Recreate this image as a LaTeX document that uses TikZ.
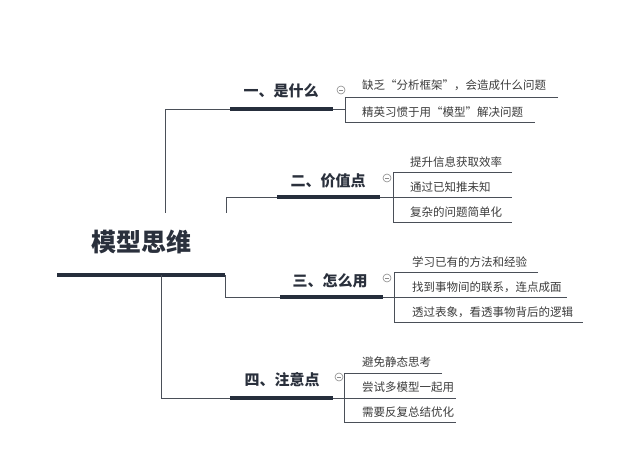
\documentclass[tikz,border=0pt]{standalone}
\usepackage{fontspec}
\newfontfamily\cjk{Noto Sans CJK SC}
\definecolor{navy}{HTML}{262E3C}
\definecolor{navytext}{HTML}{2A303C}
\definecolor{linegray}{HTML}{4A4F58}
\definecolor{leafgray}{HTML}{3C3C3C}
\definecolor{markgray}{HTML}{8A8A8A}
\tikzset{
 thinline/.style={draw=linegray, line width=0.9pt},
 thickline/.style={draw=navy, line width=3.6pt},
 rootlabel/.style={font=\cjk\bfseries\fontsize{25}{25}\selectfont, text=navytext, minimum height=58pt, inner sep=0pt},
 branchlabel/.style={font=\cjk\bfseries\fontsize{15}{15}\selectfont, text=navytext, inner sep=1pt},
 leaf/.style={font=\cjk\fontsize{11.5}{12}\selectfont, text=leafgray, anchor=west, inner sep=0pt},
 foldmark/.style={circle, draw=markgray, minimum size=8pt, inner sep=0pt, line width=0.6pt,
   path picture={\draw[markgray, line width=0.6pt] ([xshift=-2pt]path picture bounding box.center) -- ([xshift=2pt]path picture bounding box.center);}}
}
\begin{document}
\begin{tikzpicture}[x=1pt,y=-1pt]
\useasboundingbox[fill=white] (0,0) rectangle (640,476);

% root
\node[rootlabel] (root) at (141,242) {模型思维};
\coordinate (rootL) at (57,275);
\coordinate (rootR) at (225,275);
\coordinate (rootM) at (161,275);
\draw[thickline] (rootL) -- (rootR);

% ---------- branch 1
\node[branchlabel] (b1) at (281,91) {一、是什么};
\coordinate (b1L) at (230,109);
\coordinate (b1R) at (333,109);
\coordinate (j1) at (165,109);
\coordinate (k1) at (345,109);
\node[foldmark] (f1) at (341,90) {};
\draw[thinline] (j1 |- root.north) -- (j1) -- (b1L);
\draw[thickline] (b1L) -- (b1R);
\draw[thinline] (b1R) -- (k1);
\coordinate (u11) at (345,97);  \coordinate (e11) at (558,97);
\coordinate (u12) at (345,122); \coordinate (e12) at (535,122);
\node[leaf] (l11) at (362,85) {缺乏“分析框架”，会造成什么问题};
\node[leaf] (l12) at (362,112) {精英习惯于用“模型”解决问题};
\draw[thinline] (e11) -- (u11) -- (u12) -- (e12);

% ---------- branch 2
\node[branchlabel] (b2) at (328,181) {二、价值点};
\coordinate (b2L) at (277,197);
\coordinate (b2R) at (380,197);
\coordinate (j2) at (226,197);
\coordinate (k2) at (393,197);
\node[foldmark] (f2) at (387,178) {};
\draw[thinline] (j2 |- root.north) -- (j2) -- (b2L);
\draw[thickline] (b2L) -- (b2R);
\draw[thinline] (b2R) -- (k2);
\coordinate (u21) at (393,172); \coordinate (e21) at (512,172);
\coordinate (u22) at (393,197); \coordinate (e22) at (512,197);
\coordinate (u23) at (393,222); \coordinate (e23) at (512,222);
\node[leaf] (l21) at (410,162) {提升信息获取效率};
\node[leaf] (l22) at (410,187) {通过已知推未知};
\node[leaf] (l23) at (410,212) {复杂的问题简单化};
\draw[thinline] (e21) -- (u21) -- (u23) -- (e23);
\draw[thinline] (k2) -- (e22);

% ---------- branch 3
\node[branchlabel] (b3) at (330,281) {三、怎么用};
\coordinate (b3L) at (280,297);
\coordinate (b3R) at (383,297);
\coordinate (k3) at (394,297);
\node[foldmark] (f3) at (387,278) {};
\draw[thinline] (rootR) |- (b3L);
\draw[thickline] (b3L) -- (b3R);
\draw[thinline] (b3R) -- (k3);
\coordinate (u31) at (394,272); \coordinate (e31) at (538,272);
\coordinate (u32) at (394,297); \coordinate (e32) at (567,297);
\coordinate (u33) at (394,322); \coordinate (e33) at (583,322);
\node[leaf] (l31) at (412,262) {学习已有的方法和经验};
\node[leaf] (l32) at (412,287) {找到事物间的联系，连点成面};
\node[leaf] (l33) at (412,312) {透过表象，看透事物背后的逻辑};
\draw[thinline] (e31) -- (u31) -- (u33) -- (e33);
\draw[thinline] (k3) -- (e32);

% ---------- branch 4
\node[branchlabel] (b4) at (282,380) {四、注意点};
\coordinate (b4L) at (230,398);
\coordinate (b4R) at (333,398);
\coordinate (k4) at (344,398);
\node[foldmark] (f4) at (339,377) {};
\draw[thinline] (rootM) |- (b4L);
\draw[thickline] (b4L) -- (b4R);
\draw[thinline] (b4R) -- (k4);
\coordinate (u41) at (344,373); \coordinate (e41) at (442,373);
\coordinate (u42) at (344,398); \coordinate (e42) at (456,398);
\coordinate (u43) at (344,422); \coordinate (e43) at (456,422);
\node[leaf] (l41) at (362,362) {避免静态思考};
\node[leaf] (l42) at (362,387) {尝试多模型一起用};
\node[leaf] (l43) at (362,412) {需要反复总结优化};
\draw[thinline] (e41) -- (u41) -- (u43) -- (e43);
\draw[thinline] (k4) -- (e42);
\end{tikzpicture}
\end{document}
